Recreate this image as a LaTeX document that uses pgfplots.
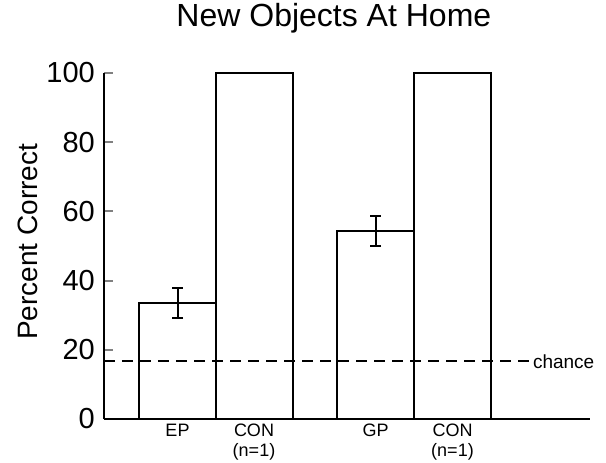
\documentclass[border=0pt]{standalone}
\usepackage{pgfplots}
\pgfplotsset{compat=1.18}
\usepackage{fontspec}
\setmainfont{Liberation Sans}

\newcommand{\fsz}[1]{\fontsize{#1bp}{1.1\dimexpr #1bp\relax}\selectfont}

\begin{document}
\begin{tikzpicture}
% page frame: the axis box sits at (104,419) px of a 606x463 picture
\path[use as bounding box] (-104bp,-44bp) rectangle (502bp,419bp);
\begin{axis}[
    scale only axis,
    width=486bp, height=346bp,
    xmin=0, xmax=486,
    ymin=0, ymax=100,
    axis x line*=bottom,
    axis y line*=left,
    axis line style={line width=2bp},
    ytick={0,20,...,100},
    ytick style={line width=2bp},
    tick align=inside,
    major tick length=9bp,
    xtick={73.5,150,271.5,348.5},
    xticklabels={EP, {CON\\(n=1)}, GP, {CON\\(n=1)}},
    xtick style={draw=none},
    xticklabel style={font=\fsz{18}, align=center, anchor=north, inner sep=0pt, yshift=-5bp},
    yticklabel style={font=\fsz{29}, inner sep=0pt, xshift=-9bp},
    /pgf/number format/assume math mode=true,
    ylabel={Percent Correct},
    ylabel style={font=\fsz{28}, at={(axis description cs:-0.177,0.512)}, anchor=north, inner sep=0pt},
    title={New Objects At Home},
    title style={font=\fsz{32}, at={(axis description cs:0.473,1)}, anchor=base, inner sep=0pt, yshift=41bp},
    clip=false,
]
% bars
\addplot[ybar, bar width=77, fill=white, draw=black, line width=2bp,
    error bars/.cd, y dir=both, y explicit,
    error bar style={line width=2bp},
    error mark options={rotate=90, mark size=5.5bp, line width=2bp}]
    coordinates {
    (73.5,33.5) +- (0,4.3)
    (150,100) +- (0,0)
    (271.5,54.3) +- (0,4.3)
    (348.5,100) +- (0,0)
    };
% chance line
\addplot[dash pattern=on 11bp off 7bp, line width=2bp] coordinates {(0,16.7) (426,16.7)}
    node[right, font=\fsz{19}, inner sep=2bp] {chance};
\end{axis}
\end{tikzpicture}
\end{document}
